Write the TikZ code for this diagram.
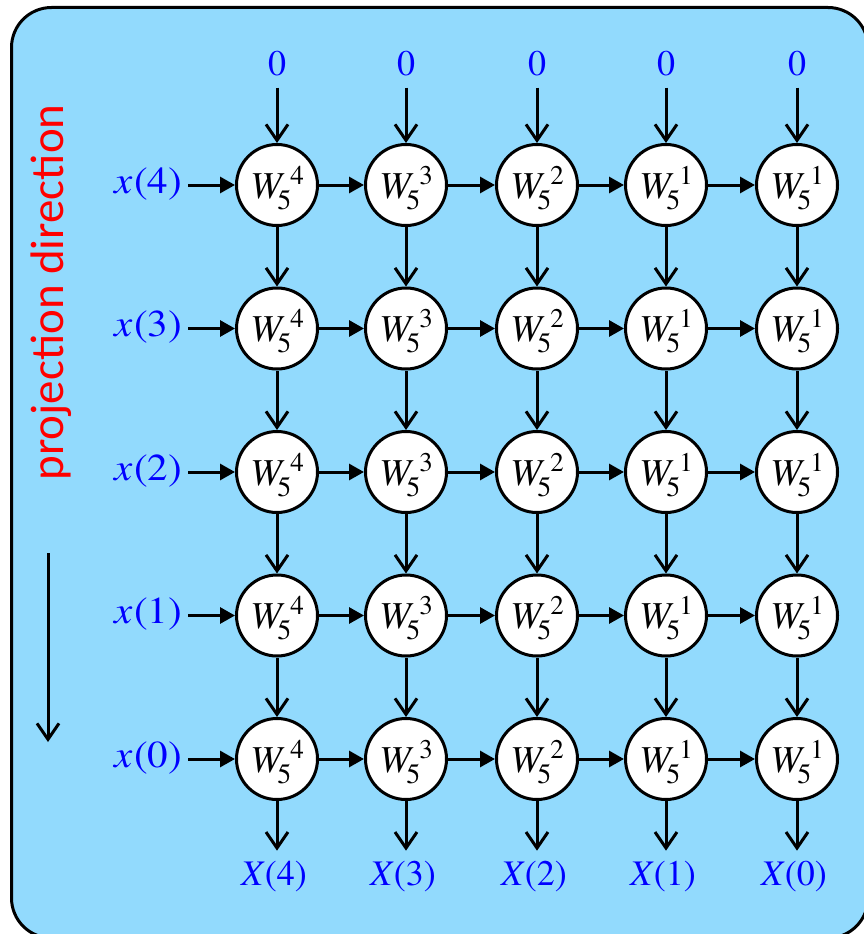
\documentclass[tikz,border=0pt]{standalone}
\usepackage{fontspec}
\setmainfont{texgyretermes}[Extension=.otf, UprightFont=*-regular, ItalicFont=*-italic, BoldFont=*-bold, BoldItalicFont=*-bolditalic]
\newfontfamily\tms{texgyretermes}[Extension=.otf, UprightFont=*-regular, ItalicFont=*-italic, BoldFont=*-bold, BoldItalicFont=*-bolditalic]
\newfontfamily\carl{Carlito}
\usetikzlibrary{arrows.meta}
\definecolor{bgblue}{RGB}{146,218,253}
\definecolor{lblue}{RGB}{0,0,255}
\definecolor{lred}{RGB}{255,0,0}
\newcommand\Wnode[1]{\tms\fontsize{38}{40}\selectfont\textit{W}\kern-7pt\raisebox{-11pt}{\fontsize{28}{28}\selectfont 5}\kern-1pt\raisebox{14pt}{\fontsize{27}{27}\selectfont #1}}
\begin{document}
\begin{tikzpicture}[x=1pt,y=-1pt, line width=3pt,
 wnode/.style={circle, draw, fill=white, minimum size=81pt, inner sep=0pt, text height=26pt, text depth=0pt, font=\tms},
 lab/.style={text=lblue, font=\tms\fontsize{36}{40}\selectfont, inner sep=0pt, outer sep=0pt},
 varr/.style={-{Straight Barb[length=16pt,width=22pt]}},
 harr/.style={-{Triangle[length=15pt,width=16pt]}},
]
\useasboundingbox (0,0) rectangle (863,934);
\draw[line width=3pt, fill=bgblue, rounded corners=40pt] (11.5,7.5) rectangle (868,938);

\foreach \c/\x/\e/\k in {1/277/4/4,2/406/3/3,3/537/2/2,4/666/1/1,5/797/1/0} {
  \foreach \r in {1,...,5} {
    \pgfmathsetmacro\y{185+143.5*(\r-1)}
    \node[wnode] (n-\r-\c) at (\x,\y) {\Wnode{\e}};
  }
  \node[lab, anchor=base] (z-\c) at (\x,75) {0};
  \pgfmathsetmacro\xo{\x-3}
  \node[lab, anchor=base] (o-\c) at (\xo,885) {\textit{X}(\k)};
}

\foreach \r/\k in {1/4,2/3,3/2,4/1,5/0} {
  \pgfmathsetmacro\yb{185+143.5*(\r-1)+8}
  \node[lab, anchor=base east, font=\tms\fontsize{38}{40}\selectfont] (x-\r) at (182,\yb) {\scalebox{1.08}[1]{\textit{x}\kern1pt(\k)}};
  \draw[harr, shorten <=6pt] (x-\r.east |- n-\r-1) -- (n-\r-1);
}

\foreach \r in {1,...,5} {
  \foreach \c [evaluate=\c as \cc using int(\c+1)] in {1,...,4} {
    \draw[harr] (n-\r-\c) -- (n-\r-\cc);
  }
}
\foreach \c in {1,...,5} {
  \foreach \r [evaluate=\r as \rr using int(\r+1)] in {1,...,4} {
    \draw[varr] (n-\r-\c) -- (n-\rr-\c);
  }
  \draw[varr, shorten <=12pt] (z-\c.south -| n-1-\c) -- (n-1-\c);
  \draw[varr, shorten >=10pt] (n-5-\c) -- (o-\c.north -| n-5-\c);
}

\node[rotate=90, anchor=base, text=lred, font=\carl\fontsize{47}{50}\selectfont, inner sep=0pt] (proj) at (63,292.5) {projection direction};
\coordinate (pa) at (48,553);
\coordinate (pb) at (48,742);
\draw[varr] (pa) -- (pb);
\end{tikzpicture}
\end{document}
